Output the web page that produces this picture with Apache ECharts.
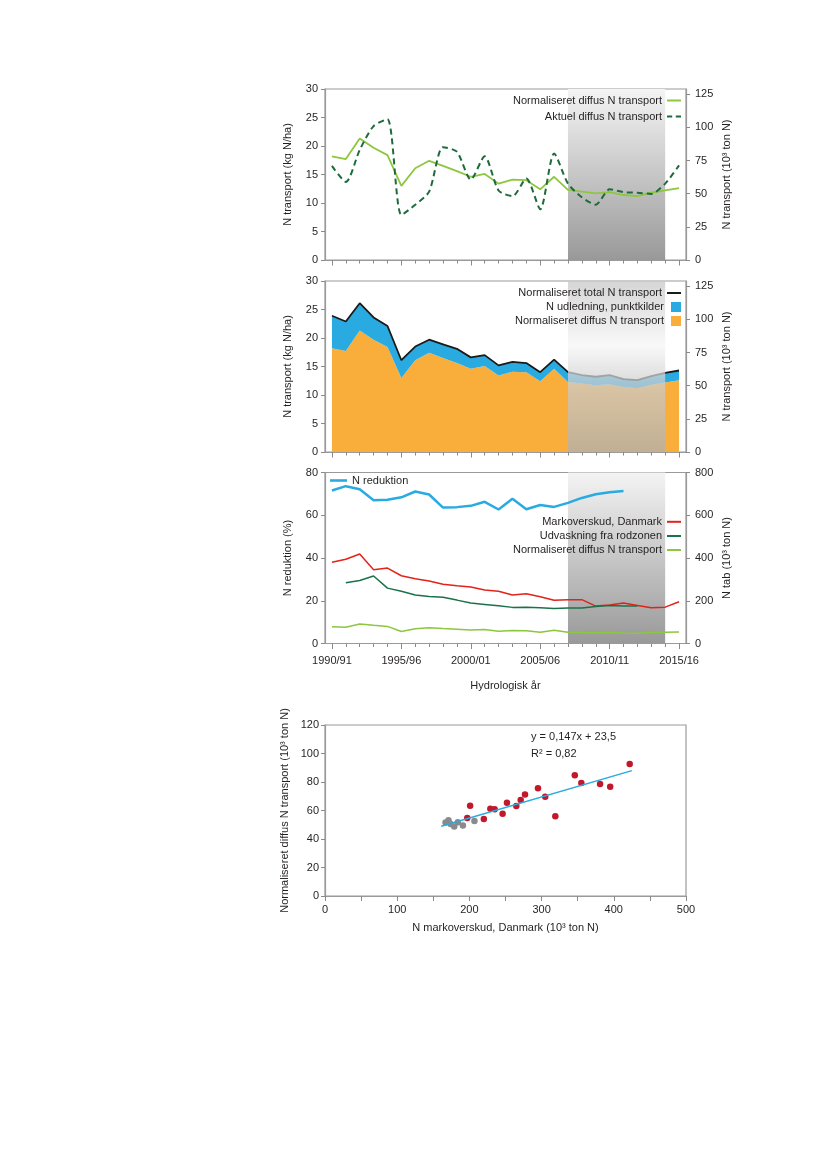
<!DOCTYPE html>
<html><head><meta charset="utf-8">
<script src="https://cdn.jsdelivr.net/npm/echarts@6/dist/echarts.min.js"></script>
<style>html,body{margin:0;padding:0;background:#fff}#c{width:827px;height:1169px}</style>
</head><body><div id="c"></div>
<script>
// ---------- DATA ----------
const yearLabels = ['1990/91','1991/92','1992/93','1993/94','1994/95','1995/96','1996/97','1997/98','1998/99','1999/00',
  '2000/01','2001/02','2002/03','2003/04','2004/05','2005/06','2006/07','2007/08','2008/09','2009/10',
  '2010/11','2011/12','2012/13','2013/14','2014/15','2015/16'];
const shadeFrom = '2007/08';
const shadeTo = '2014/15';

// Panel 1 (kg N/ha)
const normDiffus = [18.2,17.7,21.3,19.7,18.4,13.0,16.1,17.4,16.5,15.6,14.6,15.1,13.4,14.1,14.0,12.4,14.6,12.3,12.0,11.7,11.9,11.4,11.2,11.8,12.2,12.6];
const aktuelDiffus = [16.5,13.7,19.3,23.5,24.7,7.9,9.7,12.0,19.8,19.0,14.1,18.2,12.2,11.2,14.3,8.9,18.7,13.4,11.0,9.7,12.4,11.9,11.8,11.6,13.4,16.6];

// Panel 2 (kg N/ha)
const pointSource = [5.7,5.2,4.8,3.9,3.7,3.1,2.4,2.3,2.4,2.5,2.0,1.9,1.8,1.7,1.6,1.6,1.6,1.7,1.5,1.5,1.6,1.4,1.4,1.5,1.7,1.7];

// Panel 3
const nReduktion = [71.6,73.6,72.2,67.0,67.3,68.4,71.1,69.7,63.6,63.8,64.4,66.3,62.7,67.7,62.8,64.8,63.9,65.8,68.1,69.8,70.8,71.3,null,null,null,null];
const markoverskud = [380,394,419,345,353,317,303,292,277,270,264,250,244,227,233,219,202,205,205,175,180,189,178,167,170,195];
const udvaskning = [null,284,295,316,259,244,227,220,216,203,189,183,177,169,170,167,164,166,166,173,178,175,175,null,null,null];
const diffusKt = [78,76,91,85,80,56,69,74,70,67,63,65,57,61,60,53,62,53,51,50,51,49,48,51,53,54];

// Panel 4 scatter
const surplusRed = [197,201,220,229,235,246,252,265,271,277,295,305,319,346,355,381,395,422];
const transportRed = [54.7,63.4,54.0,61.3,60.8,57.8,65.5,63.2,67.4,71.3,75.6,69.7,55.9,84.7,79.3,78.6,76.7,92.6];
const surplusGray = [167,171,174,179,184,191,207];
const transportGray = [51.5,53.1,50.5,48.7,51.7,49.4,52.6];
const regX = [161,425];
const regY = [48.9,88.0];
const regText = ['y = 0,147x + 23,5','R\u00B2 = 0,82'];

// ---------- STYLE ----------
const FONT = '"Liberation Sans", Arial, sans-serif';
const FS = 11;
const TXT = '#231f20';
const AX = '#9a9a9a';
const TICK = '#8a8a8a';
const C_LGREEN = '#8dc63f', C_DGREEN = '#1d6b3d', C_BLUE = '#29abe2', C_RED = '#e2231a',
      C_GREEN2 = '#1b7149', C_ORANGE = '#f9ae3b', C_BLACK = '#1a1a1a';

const grids = [
  {left:325, top:89, width:361, height:171},
  {left:325, top:281, width:361, height:171},
  {left:325, top:472.5, width:361, height:171},
  {left:325, top:725, width:361, height:171}
].map(g => Object.assign(g, {show:true, borderColor:AX, borderWidth:1.2, backgroundColor:'transparent'}));

const txt = {color:TXT, fontSize:FS, fontFamily:FONT};

function xCat(gi, labels, name) {
  return [{
    type:'category', gridIndex:gi, data:yearLabels, boundaryGap:true, position:'bottom', z:4,
    axisLine:{show:true, lineStyle:{color:AX, width:1.2}},
    axisTick:{show:true, alignWithLabel:true, interval:0, length:3.5, lineStyle:{color:TICK}},
    axisLabel:Object.assign({show:labels, interval:4, margin:12}, txt),
    splitLine:{show:false},
    name: name || '', nameLocation:'middle', nameGap:37, nameTextStyle:txt
  },{
    type:'category', gridIndex:gi, data:yearLabels, boundaryGap:true, position:'bottom', z:4,
    axisLine:{show:false},
    axisTick:{show:true, alignWithLabel:true, interval:4, length:5.5, lineStyle:{color:TICK}},
    axisLabel:{show:false}, splitLine:{show:false}
  }];
}
function yAx(gi, pos, max, interval, name, custom) {
  const a = {
    type:'value', gridIndex:gi, position:pos, min:0, max:max, z:4,
    axisLine:{show:true, lineStyle:{color:AX, width:1.2}},
    axisTick:{show:true, length:4, lineStyle:{color:TICK}},
    axisLabel:Object.assign({margin: pos==='left' ? 7 : 9}, txt),
    splitLine:{show:false},
    name:name, nameLocation:'middle', nameRotate:90, nameGap: pos==='left' ? 32 : 35, nameTextStyle:txt
  };
  if (custom) {
    a.axisTick.customValues = custom;
    a.axisLabel.customValues = custom;
  } else {
    a.interval = interval;
  }
  return a;
}

const xAxis = [].concat(
  xCat(0,false), xCat(1,false), xCat(2,true,'Hydrologisk år'),
  [{
    type:'value', gridIndex:3, min:0, max:500, interval:50, z:4,
    axisLine:{show:true, lineStyle:{color:AX, width:1.2}},
    axisTick:{show:true, length:5, lineStyle:{color:TICK}},
    axisLabel:Object.assign({margin:8, formatter: v => (v % 100 === 0 ? String(v) : '')}, txt),
    splitLine:{show:false},
    name:'N markoverskud, Danmark (10\u00B3 ton N)', nameLocation:'middle', nameGap:26, nameTextStyle:txt
  }]
);
const rightTicks = [0,25,50,75,100,125];
const yAxis = [
  yAx(0,'left',30,5,'N transport (kg N/ha)'),
  yAx(0,'right',129,null,'N transport (10\u00B3 ton N)', rightTicks),
  yAx(1,'left',30,5,'N transport (kg N/ha)'),
  yAx(1,'right',129,null,'N transport (10\u00B3 ton N)', rightTicks),
  yAx(2,'left',80,20,'N reduktion (%)'),
  yAx(2,'right',800,200,'N tab (10\u00B3 ton N)'),
  Object.assign(yAx(3,'left',120,20,'Normaliseret diffus N transport (10\u00B3 ton N)'), {nameGap:35, axisLabel:Object.assign({margin:6}, txt)})
];

const shadeGrad = {type:'linear', x:0, y:0, x2:0, y2:1, colorStops:[
  {offset:0, color:'#f4f4f4'}, {offset:1, color:'#999999'}]};
const overlayGrad = {type:'linear', x:0, y:0, x2:0, y2:1, colorStops:[
  {offset:0, color:'rgba(200,200,200,0.75)'},
  {offset:0.38, color:'rgba(246,246,246,0.75)'},
  {offset:0.6, color:'rgba(205,205,205,0.72)'},
  {offset:1, color:'rgba(176,176,176,0.76)'}]};

function shade(grad, z) {
  return {silent:true, z:z, label:{show:false}, itemStyle:{color:grad},
    data:[[{xAxis:shadeFrom},{xAxis:shadeTo}]]};
}
function lineS(name, xi, yi, data, color, width, extra) {
  return Object.assign({
    type:'line', name:name, xAxisIndex:xi, yAxisIndex:yi, data:data,
    symbol:'none', showSymbol:false, connectNulls:false,
    lineStyle:{color:color, width:width}, itemStyle:{color:color}
  }, extra || {});
}

const ZW = '\u200b';
const totalN = normDiffus.map((v,i) => Number((v + pointSource[i]).toFixed(2)));

const series = [
  // Panel 1
  lineS('Normaliseret diffus N transport', 0, 0, normDiffus, C_LGREEN, 1.8, {markArea: shade(shadeGrad, 1)}),
  lineS('Aktuel diffus N transport', 0, 0, aktuelDiffus, C_DGREEN, 2, {smooth:0.25, lineStyle:{color:C_DGREEN, width:2, type:[6,4]}}),
  // Panel 2
  lineS('Normaliseret diffus N transport' + ZW, 2, 2, normDiffus, C_ORANGE, 0, {stack:'tot', areaStyle:{color:C_ORANGE, opacity:1}, lineStyle:{width:0, color:C_ORANGE}}),
  lineS('N udledning, punktkilder', 2, 2, pointSource, C_BLUE, 0, {stack:'tot', areaStyle:{color:C_BLUE, opacity:1}, lineStyle:{width:0, color:C_BLUE}}),
  lineS('Normaliseret total N transport', 2, 2, totalN, C_BLACK, 1.8, {z:3, markArea: shade(overlayGrad, 10)}),
  // Panel 3
  lineS('N reduktion', 4, 4, nReduktion, C_BLUE, 2.5, {markArea: shade(shadeGrad, 1)}),
  lineS('Markoverskud, Danmark', 4, 5, markoverskud, C_RED, 1.5),
  lineS('Udvaskning fra rodzonen', 4, 5, udvaskning, C_GREEN2, 1.5),
  lineS('Normaliseret diffus N transport' + ZW + ZW, 4, 5, diffusKt, C_LGREEN, 1.5),
  // Panel 4
  lineS('reg', 6, 6, regX.map((x,i) => [x, regY[i]]), C_BLUE, 1.5),
  {type:'scatter', name:'red', xAxisIndex:6, yAxisIndex:6, symbol:'circle', symbolSize:6.5,
   itemStyle:{color:'#c1182b', opacity:1}, data: surplusRed.map((x,i) => [x, transportRed[i]])},
  {type:'scatter', name:'gray', xAxisIndex:6, yAxisIndex:6, symbol:'circle', symbolSize:6.5,
   itemStyle:{color:'#8a8a8a', opacity:1}, data: surplusGray.map((x,i) => [x, transportGray[i]])}
];

const SQ = 'path://M0,0H10V10H0Z';
const LN = 'path://M0,0H14V2H0Z';
const LN_DASH = 'path://M0,0H5V2H0Z M8.5,0H13.5V2H8.5Z';
const LN_THICK = 'path://M0,0H17V2.6H0Z';
function leg(name, icon, cy, opts) {
  return Object.assign({
    data:[{name:name, icon:icon}], orient:'horizontal', align:'right', right:146, top:cy - 5, z:20,
    itemWidth:14, itemHeight:10, padding:0, selectedMode:false, textStyle:txt
  }, opts || {});
}
const legend = [
  leg('Normaliseret diffus N transport', LN, 100),
  leg('Aktuel diffus N transport', LN_DASH, 116),
  leg('Normaliseret total N transport', LN, 292.5),
  leg('N udledning, punktkilder', SQ, 306.5),
  leg('Normaliseret diffus N transport' + ZW, SQ, 320.5),
  leg('N reduktion', LN_THICK, 480, {align:'left', right:null, left:330, itemWidth:17}),
  leg('Markoverskud, Danmark', LN, 521.3),
  leg('Udvaskning fra rodzonen', LN, 535.5),
  leg('Normaliseret diffus N transport' + ZW + ZW, LN, 549.5)
];

const graphic = [
  {type:'text', left:531, top:731, z:20, style:{text:regText[0], fill:TXT, font:'11px ' + FONT}},
  {type:'text', left:531, top:748, z:20, style:{text:regText[1], fill:TXT, font:'11px ' + FONT}}
];

const chart = echarts.init(document.getElementById('c'), null, {renderer:'canvas'});
chart.setOption({
  animation:false, backgroundColor:'#fff',
  textStyle:{fontFamily:FONT},
  grid:grids, xAxis:xAxis, yAxis:yAxis, series:series, legend:legend, graphic:graphic
});
</script></body></html>
